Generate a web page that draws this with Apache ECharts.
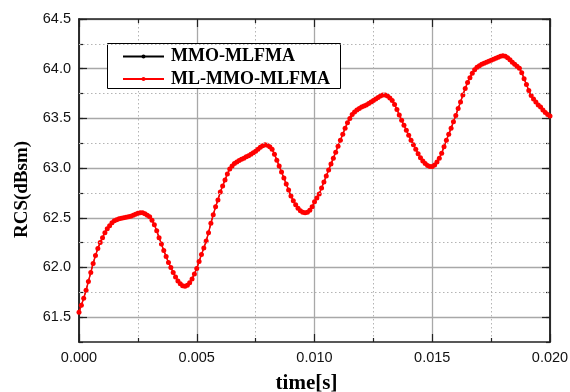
<!DOCTYPE html>
<html>
<head>
<meta charset="utf-8">
<script src="https://cdn.jsdelivr.net/npm/echarts@6/dist/echarts.min.js"></script>
<style>html,body{margin:0;padding:0;background:#fff;}#c{width:570px;height:392px;}</style>
</head>
<body>
<div id="c"></div>
<script>
// time step 0.0001 s, from 0 to 0.02 s
const mmoMlfma = [
61.55,61.62,61.69,61.77,61.86,61.95,62.04,62.12,62.19,62.25,
62.30,62.35,62.39,62.42,62.45,62.47,62.48,62.49,62.495,62.50,
62.505,62.51,62.515,62.525,62.535,62.545,62.55,62.55,62.54,62.525,
62.51,62.475,62.43,62.37,62.30,62.235,62.17,62.11,62.05,62.00,
61.95,61.905,61.865,61.835,61.815,61.81,61.82,61.845,61.885,61.935,
61.99,62.06,62.13,62.195,62.265,62.35,62.445,62.53,62.61,62.68,
62.76,62.82,62.88,62.94,62.99,63.02,63.045,63.06,63.075,63.09,
63.10,63.115,63.125,63.14,63.155,63.17,63.19,63.21,63.225,63.235,
63.23,63.215,63.19,63.14,63.08,63.02,62.96,62.90,62.84,62.78,
62.72,62.67,62.63,62.595,62.57,62.555,62.55,62.555,62.575,62.61,
62.66,62.70,62.74,62.80,62.86,62.92,62.98,63.04,63.10,63.16,
63.22,63.28,63.34,63.40,63.455,63.50,63.54,63.565,63.585,63.60,
63.615,63.625,63.635,63.65,63.665,63.68,63.695,63.71,63.725,63.735,
63.735,63.725,63.705,63.68,63.64,63.59,63.535,63.48,63.43,63.38,
63.33,63.28,63.235,63.19,63.145,63.105,63.07,63.045,63.025,63.015,
63.015,63.03,63.06,63.10,63.15,63.215,63.28,63.34,63.40,63.465,
63.53,63.60,63.665,63.735,63.80,63.86,63.91,63.955,63.99,64.015,
64.03,64.045,64.055,64.065,64.075,64.085,64.095,64.105,64.115,64.125,
64.13,64.125,64.11,64.09,64.065,64.045,64.025,64.005,63.96,63.90,
63.84,63.78,63.73,63.695,63.665,63.635,63.615,63.585,63.56,63.54,
63.525
];
const mlMmoMlfma = [
61.55,61.62,61.69,61.77,61.86,61.95,62.04,62.12,62.19,62.25,
62.30,62.35,62.39,62.42,62.45,62.47,62.48,62.49,62.495,62.50,
62.505,62.51,62.515,62.525,62.535,62.545,62.55,62.55,62.54,62.525,
62.51,62.475,62.43,62.37,62.30,62.235,62.17,62.11,62.05,62.00,
61.95,61.905,61.865,61.835,61.815,61.81,61.82,61.845,61.885,61.935,
61.99,62.06,62.13,62.195,62.265,62.35,62.445,62.53,62.61,62.68,
62.76,62.82,62.88,62.94,62.99,63.02,63.045,63.06,63.075,63.09,
63.10,63.115,63.125,63.14,63.155,63.17,63.19,63.21,63.225,63.235,
63.23,63.215,63.19,63.14,63.08,63.02,62.96,62.90,62.84,62.78,
62.72,62.67,62.63,62.595,62.57,62.555,62.55,62.555,62.575,62.61,
62.66,62.70,62.74,62.80,62.86,62.92,62.98,63.04,63.10,63.16,
63.22,63.28,63.34,63.40,63.455,63.50,63.54,63.565,63.585,63.60,
63.615,63.625,63.635,63.65,63.665,63.68,63.695,63.71,63.725,63.735,
63.735,63.725,63.705,63.68,63.64,63.59,63.535,63.48,63.43,63.38,
63.33,63.28,63.235,63.19,63.145,63.105,63.07,63.045,63.025,63.015,
63.015,63.03,63.06,63.10,63.15,63.215,63.28,63.34,63.40,63.465,
63.53,63.60,63.665,63.735,63.80,63.86,63.91,63.955,63.99,64.015,
64.03,64.045,64.055,64.065,64.075,64.085,64.095,64.105,64.115,64.125,
64.13,64.125,64.11,64.09,64.065,64.045,64.025,64.005,63.96,63.90,
63.84,63.78,63.73,63.695,63.665,63.635,63.615,63.585,63.56,63.54,
63.525
];
const timeStep = 0.0001;
const times = mmoMlfma.map((_, i) => +(i * timeStep).toFixed(4));
const xTicks = [0, 0.005, 0.010, 0.015, 0.020];
const yTicks = [61.5, 62.0, 62.5, 63.0, 63.5, 64.0, 64.5];
const yMinorTicks = [61.75, 62.25, 62.75, 63.25, 63.75, 64.25];
const seriesNames = ['MMO-MLFMA', 'ML-MMO-MLFMA'];

const X_MIN = 0, X_MAX = 0.02, Y_MIN = 61.25, Y_MAX = 64.5;
const axisColor = '#222';
const labelFont = {fontFamily: 'Liberation Sans, Arial, sans-serif', fontSize: 14.5, color: '#111'};
const nameFont = {fontFamily: 'Liberation Serif, Times New Roman, serif', fontWeight: 'bold', color: '#000'};
const minorLine = {color: '#b4b4b4', width: 1, type: [1.5, 2.5]};
const majorGrid = {show: true, lineStyle: {color: '#a8a8a8', width: 1.3, type: 'solid'}};

function xAx(pos) {
  const bottom = pos === 'bottom';
  return {
    type: 'value', position: pos, min: X_MIN, max: X_MAX, interval: 0.005,
    axisLine: {show: true, onZero: false, lineStyle: {color: axisColor, width: 1.5}},
    axisTick: {show: true, inside: true, length: 8, lineStyle: {color: axisColor, width: 1.2}},
    minorTick: {show: true, splitNumber: 2, length: 4, lineStyle: {color: axisColor, width: 1.2}},
    axisLabel: bottom ? Object.assign({show: true, margin: 8, formatter: v => v.toFixed(3)}, labelFont) : {show: false},
    splitLine: bottom ? majorGrid : {show: false},
    minorSplitLine: {show: bottom, lineStyle: minorLine},
    name: bottom ? 'time[s]' : '',
    nameLocation: 'middle', nameGap: 31,
    nameTextStyle: Object.assign({fontSize: 21, padding: [0, 16, 0, 0]}, nameFont)
  };
}
function yAx(pos, major) {
  const left = pos === 'left';
  const a = {
    type: 'value', position: pos, min: Y_MIN, max: Y_MAX, interval: 0.25,
    axisLine: {show: true, onZero: false, lineStyle: {color: axisColor, width: 1.5}},
    axisTick: {show: true, inside: true, length: major ? 8 : 4, lineStyle: {color: axisColor, width: 1.2}},
    axisLabel: (major && left) ? Object.assign({show: true, margin: 8,
      formatter: v => (yTicks.some(t => Math.abs(t - v) < 1e-6) ? v.toFixed(1) : '')}, labelFont) : {show: false},
    splitLine: (major && left) ? majorGrid : {show: false},
    name: (major && left) ? 'RCS(dBsm)' : '',
    nameLocation: 'middle', nameGap: 47,
    nameTextStyle: Object.assign({fontSize: 19, padding: [0, 18, 0, 0]}, nameFont)
  };
  if (major) {
    a.axisTick.customValues = yTicks;
    if (left) a.axisLabel.customValues = yTicks;
  }
  return a;
}

const chart = echarts.init(document.getElementById('c'), null, {renderer: 'canvas'});
chart.setOption({
  animation: false,
  backgroundColor: '#fff',
  grid: {left: 79, right: 20, top: 19, bottom: 50, containLabel: false, outerBoundsMode: 'none'},
  xAxis: [xAx('bottom'), xAx('top')],
  yAxis: [yAx('left', true), yAx('left', false), yAx('right', true), yAx('right', false)],
  graphic: [{
    type: 'rect', left: 107, top: 43, z: 3,
    shape: {width: 233, height: 45},
    style: {fill: '#fff', stroke: '#000', lineWidth: 1}
  }],
  legend: {
    orient: 'vertical', left: 122, top: 46.5, padding: 0, z: 5,
    itemWidth: 41, itemHeight: 5, itemGap: 2.6,
    data: seriesNames,
    textStyle: Object.assign({fontSize: 18, lineHeight: 20, padding: [0, 0, 0, 2]}, nameFont)
  },
  series: [{
    name: 'minor-grid', type: 'line', xAxisIndex: 0, yAxisIndex: 0, z: 0, data: [],
    markLine: {
      silent: true, symbol: 'none', label: {show: false}, animation: false,
      lineStyle: minorLine,
      data: yMinorTicks.map(v => ({yAxis: v}))
    }
  }, {
    name: seriesNames[0], type: 'line', xAxisIndex: 0, yAxisIndex: 0, z: 2,
    data: times.map((t, i) => [t, mmoMlfma[i]]),
    symbol: 'circle', symbolSize: 3, showAllSymbol: true,
    lineStyle: {color: '#000', width: 1}, itemStyle: {color: '#000'}
  }, {
    name: seriesNames[1], type: 'line', xAxisIndex: 0, yAxisIndex: 0, z: 3,
    data: times.map((t, i) => [t, mlMmoMlfma[i]]),
    symbol: 'circle', symbolSize: 5, showAllSymbol: true,
    lineStyle: {color: '#ff0000', width: 1.5}, itemStyle: {color: '#ff0000'}
  }]
});
</script>
</body>
</html>
